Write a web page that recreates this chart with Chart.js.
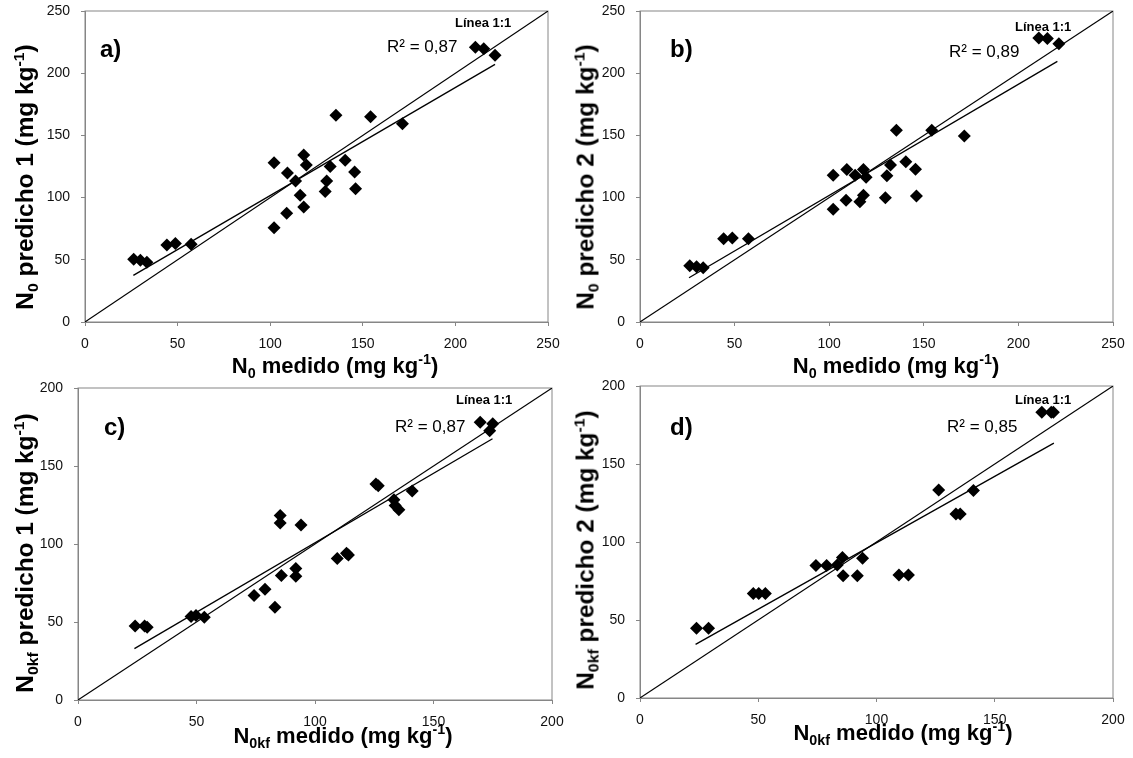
<!DOCTYPE html>
<html>
<head>
<meta charset="utf-8">
<script src="https://cdn.jsdelivr.net/npm/chart.js@4/dist/chart.umd.min.js"></script>
<style>
body { margin: 0; background: #fff; }
#wrap { position: relative; width: 1133px; height: 758px; overflow: hidden; font-family: "Liberation Sans", Arial, sans-serif; color: #000; }
canvas { position: absolute; }
.t { position: absolute; white-space: nowrap; line-height: 1; z-index: 2; }
.tag { font-weight: bold; font-size: 24px; }
.r2 { font-size: 17px; }
.linea { font-weight: bold; font-size: 13px; }
.xt { font-weight: bold; font-size: 22px; transform: translate(-50%, -50%); }
.yt { font-weight: bold; font-size: 23px; transform: translate(-50%, -50%) rotate(-90deg) scaleX(1.06); }
sub { font-size: 0.65em; vertical-align: -0.35em; line-height: 0; }
sup { font-size: 0.65em; vertical-align: 0.6em; line-height: 0; }
</style>
</head>
<body>
<div id="wrap">
  <canvas id="pa" width="575" height="370" style="left:0;top:0"></canvas>
  <canvas id="pb" width="573" height="370" style="left:560px;top:0"></canvas>
  <canvas id="pc" width="575" height="388" style="left:0;top:370px"></canvas>
  <canvas id="pd" width="573" height="388" style="left:560px;top:370px"></canvas>

  <div class="t tag" style="left:100px;top:37px">a)</div>
  <div class="t r2" style="left:387px;top:38px">R² = 0,87</div>
  <div class="t linea" style="left:455px;top:16px">Línea 1:1</div>
  <div class="t yt" style="left:25px;top:177px">N<sub>0</sub> predicho 1 (mg kg<sup>-1</sup>)</div>
  <div class="t xt" style="left:335px;top:366px">N<sub>0</sub> medido (mg kg<sup>-1</sup>)</div>

  <div class="t tag" style="left:670px;top:37px">b)</div>
  <div class="t r2" style="left:949px;top:43px">R² = 0,89</div>
  <div class="t linea" style="left:1015px;top:20px">Línea 1:1</div>
  <div class="t yt" style="left:586px;top:177px">N<sub>0</sub> predicho 2 (mg kg<sup>-1</sup>)</div>
  <div class="t xt" style="left:896px;top:366px">N<sub>0</sub> medido (mg kg<sup>-1</sup>)</div>

  <div class="t tag" style="left:104px;top:415px">c)</div>
  <div class="t r2" style="left:395px;top:418px">R² = 0,87</div>
  <div class="t linea" style="left:456px;top:393px">Línea 1:1</div>
  <div class="t yt" style="left:25px;top:553px">N<sub>0kf</sub> predicho 1 (mg kg<sup>-1</sup>)</div>
  <div class="t xt" style="left:343px;top:736px">N<sub>0kf</sub> medido (mg kg<sup>-1</sup>)</div>

  <div class="t tag" style="left:670px;top:415px">d)</div>
  <div class="t r2" style="left:947px;top:418px">R² = 0,85</div>
  <div class="t linea" style="left:1015px;top:393px">Línea 1:1</div>
  <div class="t yt" style="left:586px;top:550px">N<sub>0kf</sub> predicho 2 (mg kg<sup>-1</sup>)</div>
  <div class="t xt" style="left:903px;top:733px">N<sub>0kf</sub> medido (mg kg<sup>-1</sup>)</div>
</div>
<script>
// panels a) and b): same measured N0, two predictions
const n0Medido = [26.3, 29.9, 33.4, 44.2, 48.8, 57.3, 102.1, 102.1, 109.3, 108.9, 113.7, 116.2, 118.1, 119.5,
  118.1, 129.7, 130.5, 132.4, 135.5, 140.5, 145.6, 146.1, 154.2, 171.4, 210.8, 215.3, 221.4];
const n0Predicho1 = [50.4, 49.6, 48.0, 61.9, 63.2, 62.4, 128.0, 75.8, 119.8, 87.4, 113.3, 101.8, 134.2, 126.2,
  92.4, 105.0, 113.3, 124.9, 166.1, 130.0, 120.6, 107.2, 165.0, 159.4, 220.8, 219.7, 214.4];
const n0Predicho2 = [45.3, 44.5, 43.7, 67.0, 67.5, 67.0, 117.9, 90.6, 122.5, 97.8, 117.9, 96.7, 122.5, 116.3,
  101.8, 99.9, 117.6, 126.2, 154.1, 128.9, 122.7, 101.3, 154.1, 149.5, 228.3, 227.8, 223.7];

// panel c)
const n0kfMedidoC = [24.1, 28.1, 29.2, 47.7, 49.8, 53.3, 74.3, 78.9, 83.1, 85.3, 85.3, 85.8, 91.9, 91.9,
  94.1, 109.4, 113.3, 114.1, 125.7, 126.7, 133.3, 133.8, 135.4, 141.0, 169.7, 173.7, 175.0];
const n0kfPredicho1 = [47.5, 47.5, 46.6, 53.5, 54.1, 53.0, 67.0, 71.0, 59.5, 118.3, 113.4, 79.8, 84.3, 79.4,
  112.1, 90.7, 94.1, 93.0, 138.4, 137.3, 128.3, 124.7, 121.9, 133.9, 178.0, 172.6, 177.1];

// panel d)
const n0kfMedidoD = [23.9, 29.0, 47.9, 50.2, 53.0, 74.4, 78.9, 83.4, 85.6, 85.9, 91.9, 94.1, 109.5, 113.5,
  126.3, 133.6, 135.4, 141.0, 169.9, 173.9, 174.8];
const n0kfPredicho2 = [44.7, 44.7, 67.0, 67.0, 67.0, 84.9, 84.9, 85.3, 90.1, 78.3, 78.3, 89.6, 78.9, 78.9,
  133.3, 117.9, 117.9, 133.0, 183.1, 183.1, 183.1];

// linear trend lines (end points)
const trendAx = [26.1, 221.4], trendAy = [37.5, 207.1];
const trendBx = [25.9, 220.6], trendBy = [35.6, 209.5];
const trendCx = [23.8, 174.9], trendCy = [32.9, 167.5];
const trendDx = [23.5, 175.0], trendDy = [34.4, 163.4];

const ticks250 = [0, 50, 100, 150, 200, 250];
const ticks200 = [0, 50, 100, 150, 200];

const frame = {
  id: 'frame',
  beforeDatasetsDraw(chart) {
    const { ctx, chartArea: a } = chart;
    ctx.save();
    ctx.strokeStyle = '#868686';
    ctx.lineWidth = 1;
    ctx.strokeRect(a.left, a.top, a.right - a.left, a.bottom - a.top);
    ctx.restore();
  }
};

function pts(xs, ys) {
  return xs.map((x, i) => ({ x: x, y: ys[i] }));
}

function axis(ticks, fit, pad) {
  return {
    type: 'linear',
    min: ticks[0],
    max: ticks[ticks.length - 1],
    afterBuildTicks: s => { s.ticks = ticks.map(v => ({ value: v })); },
    afterFit: s => {
      fit(s);
      // no extra room for the end labels, the plot box is placed by hand
      s.paddingLeft = s.paddingRight = s.paddingTop = s.paddingBottom = 0;
    },
    grid: { drawOnChartArea: false, tickLength: 4, color: '#868686' },
    border: { color: '#868686', width: 1 },
    ticks: { color: '#111', font: { family: 'Liberation Sans', size: 14 }, padding: pad }
  };
}

function panel(id, xs, ys, tx, ty, ticks, pad, yWidth, xHeight) {
  const top = ticks[ticks.length - 1];
  new Chart(document.getElementById(id), {
    type: 'scatter',
    data: {
      datasets: [
        { data: pts(xs, ys), pointStyle: 'rectRot', pointRadius: 6.5, pointHoverRadius: 6.5,
          backgroundColor: '#000', borderWidth: 0, clip: false },
        { data: pts(tx, ty), showLine: true, borderColor: '#000', borderWidth: 1.3, pointRadius: 0 },
        { data: pts([0, top], [0, top]), showLine: true, borderColor: '#000', borderWidth: 1.1, pointRadius: 0 }
      ]
    },
    options: {
      responsive: false,
      animation: false,
      layout: { padding: pad },
      plugins: { legend: { display: false }, tooltip: { enabled: false } },
      scales: {
        x: axis(ticks, s => { s.height = xHeight; }, 10),
        y: axis(ticks, s => { s.width = yWidth; }, 11)
      }
    },
    plugins: [frame]
  });
}

panel('pa', n0Medido, n0Predicho1, trendAx, trendAy, ticks250, { top: 11, right: 27, left: 0, bottom: 0 }, 85, 48);
panel('pb', n0Medido, n0Predicho2, trendBx, trendBy, ticks250, { top: 11, right: 20, left: 0, bottom: 0 }, 80, 48);
panel('pc', n0kfMedidoC, n0kfPredicho1, trendCx, trendCy, ticks200, { top: 18, right: 23, left: 0, bottom: 0 }, 78, 58);
panel('pd', n0kfMedidoD, n0kfPredicho2, trendDx, trendDy, ticks200, { top: 16, right: 20, left: 0, bottom: 0 }, 80, 60);
</script>
</body>
</html>
